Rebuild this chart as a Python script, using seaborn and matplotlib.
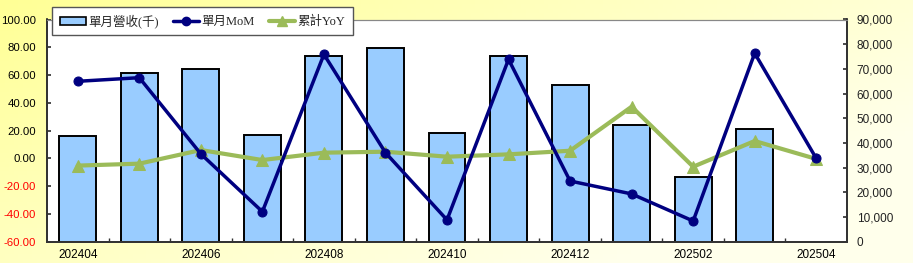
import numpy as np
import pandas as pd
import matplotlib
matplotlib.use("Agg")
import matplotlib.pyplot as plt
import seaborn as sns
from matplotlib.patches import Patch
from matplotlib.lines import Line2D
from matplotlib.ticker import FixedLocator

# ---- data ----
months = ["202404", "202405", "202406", "202407", "202408", "202409", "202410",
          "202411", "202412", "202501", "202502", "202503", "202504"]
revenue = [43000, 68200, 69900, 43200, 75300, 78600, 43900,
           75300, 63300, 47300, 26100, 45500, np.nan]
mom = [55.5, 58.1, 3.2, -38.4, 74.9, 4.1, -44.3, 71.3, -16.3, -25.6, -45.1, 75.7, 0.0]
yoy = [-5.2, -3.8, 6.0, -1.2, 4.1, 4.8, 1.2, 2.9, 5.5, 37.2, -6.0, 12.5, -0.4]
left_ticks = [-60, -40, -20, 0, 20, 40, 60, 80, 100]
right_ticks = [0, 10000, 20000, 30000, 40000, 50000, 60000, 70000, 80000, 90000]
legend_labels = ["單月營收(千)", "單月MoM", "累計YoY"]

sns.set_theme(style="white")
plt.rcParams["font.family"] = ["Liberation Sans", "Noto Sans CJK TC", "DejaVu Sans"]

W, H = 913, 263
fig = plt.figure(figsize=(W / 100, H / 100), dpi=100)

# background gradient
bg = fig.add_axes([0, 0, 1, 1], zorder=-10)
gx = np.linspace(0, 1, 200)[None, :]
gy = np.linspace(0, 1, 60)[:, None]
t = np.clip(0.75 * gx + 0.5 * gy, 0, 1)
c0 = np.array([255, 255, 150]) / 255
c1 = np.array([255, 255, 235]) / 255
img = c0[None, None, :] * (1 - t[..., None]) + c1[None, None, :] * t[..., None]
bg.imshow(img, aspect="auto", extent=[0, 1, 0, 1], origin="upper")
bg.axis("off")

left, right, top, bottom = 47, 847, 19.5, 241.7
ax = fig.add_axes([left / W, 1 - bottom / H, (right - left) / W, (bottom - top) / H])
ax.set_facecolor("white")

df_bar = pd.DataFrame({"month": months, "revenue": revenue})
sns.barplot(data=df_bar, x="month", y="revenue", order=months, ax=ax,
            color="#99CCFF", saturation=1, edgecolor="black", linewidth=1.4, width=0.6)
ax.set_ylim(0, 90000)
ax.set_xlim(-0.5, len(months) - 0.5)
ax.set_xlabel("")
ax.set_ylabel("")

ax2 = ax.twinx()
x = np.arange(len(months))
df_line = pd.DataFrame({"x": x, "mom": mom, "yoy": yoy})
sns.lineplot(data=df_line, x="x", y="yoy", ax=ax2, color="#9BBB59", linewidth=3,
             marker="^", markersize=8, markeredgecolor="#9BBB59")
sns.lineplot(data=df_line, x="x", y="mom", ax=ax2, color="#000080", linewidth=2.5,
             marker="o", markersize=6.5, markeredgecolor="#000080")
ax2.set_ylim(-60, 100)
ax2.set_xlim(-0.5, len(months) - 0.5)
ax2.set_xlabel("")
ax2.set_ylabel("")

# axis sides (after twinx)
ax.yaxis.tick_right()
ax.yaxis.set_label_position("right")
ax2.yaxis.tick_left()
ax2.yaxis.set_label_position("left")

ax.yaxis.set_major_locator(FixedLocator(right_ticks))
ax.set_yticklabels([f"{v:,}" for v in right_ticks])
ax2.yaxis.set_major_locator(FixedLocator(left_ticks))
ax2.set_yticklabels([f"{v:.2f}" for v in left_ticks])
for lab, v in zip(ax2.get_yticklabels(), left_ticks):
    lab.set_color("#FF0000" if v < 0 else "black")

ax.set_xticks(x[::2])
ax.set_xticklabels(months[::2])
ax.set_xticks(np.arange(0.5, len(months) - 1, 1), minor=True)
ax.tick_params(axis="x", which="major", length=0, pad=5, labelsize=8.5, labelcolor="black")
ax.tick_params(axis="x", which="minor", length=3, direction="in", color="#333333", width=1, bottom=True)
ax.tick_params(axis="y", which="major", length=3, direction="in", color="#333333",
               pad=7, labelsize=8.5, labelcolor="#222222",
               right=True, labelright=True, left=False, labelleft=False)
ax2.tick_params(axis="y", which="major", length=3, direction="in", color="#333333",
                pad=8, labelsize=8.2, left=True, labelleft=True, right=False, labelright=False)
ax2.tick_params(axis="x", length=0, labelbottom=False)

for a in (ax, ax2):
    for s in ["left", "right", "bottom"]:
        a.spines[s].set_color("#333333")
        a.spines[s].set_linewidth(1.3)
    a.spines["top"].set_color("#888888")
    a.spines["top"].set_linewidth(0.8)

handles = [Patch(facecolor="#99CCFF", edgecolor="black", linewidth=1.2),
           Line2D([], [], color="#000080", linewidth=2.5, marker="o", markersize=6),
           Line2D([], [], color="#9BBB59", linewidth=3, marker="^", markersize=7)]
leg = fig.legend(handles, legend_labels, loc="center",
                 bbox_to_anchor=(202.5 / W, 1 - 21 / H), ncol=3, frameon=True,
                 fancybox=False, edgecolor="#555555", framealpha=1,
                 prop={"family": ["Liberation Serif", "Noto Sans CJK TC", "DejaVu Sans"], "size": 9},
                 handlelength=2.1, handleheight=0.6, columnspacing=1.1,
                 handletextpad=0.2, borderpad=0.6, borderaxespad=0)
leg.get_frame().set_linewidth(1.0)
leg.set_zorder(20)

fig.savefig("out.png", dpi=100)
